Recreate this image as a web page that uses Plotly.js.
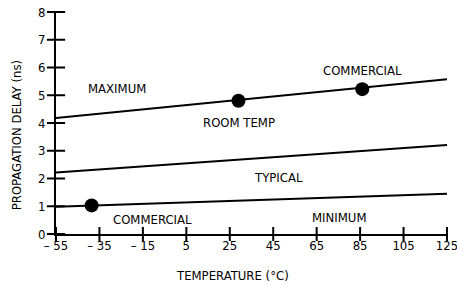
<!DOCTYPE html>
<html>
<head>
<meta charset="utf-8">
<script src="https://cdn.plot.ly/plotly-3.0.1.min.js"></script>
<style>html,body{margin:0;padding:0;background:#fff;}#chart{width:457px;height:285px;}</style>
</head>
<body>
<div id="chart"></div>
<script>
// Data
const lineTemps = [-55, 125];
const maximumDelay = [4.18, 5.58];
const typicalDelay = [2.22, 3.21];
const minimumDelay = [0.98, 1.45];

const dotTemps = [-38.6, 29, 86];
const dotDelays = [1.03, 4.8, 5.22];

const xTickVals = [-55, -35, -15, 5, 25, 45, 65, 85, 105, 125];
const xTickText = ['\u2013 55', '\u2013 35', '\u2013 15', '5', '25', '45', '65', '85', '105', '125'];
const yTickVals = [0, 1, 2, 3, 4, 5, 6, 7, 8];

const labelTexts = ['MAXIMUM', 'ROOM TEMP', 'COMMERCIAL', 'TYPICAL', 'COMMERCIAL', 'MINIMUM'];
const labelX = [-26.9, 29.3, 86.3, 47.4, -10.8, 75.1];
const labelY = [5.26, 4.03, 5.9, 2.05, 0.52, 0.6];

const FONT = '"DejaVu Sans Condensed", "DejaVu Sans", sans-serif';
const INK = '#000';
const FS = 13;
const xMin = xTickVals[0], yMin = yTickVals[0];

const lineStyle = {color: INK, width: 2};
const traces = [
  {x: lineTemps, y: maximumDelay, mode: 'lines', line: lineStyle, hoverinfo: 'skip'},
  {x: lineTemps, y: typicalDelay, mode: 'lines', line: lineStyle, hoverinfo: 'skip'},
  {x: lineTemps, y: minimumDelay, mode: 'lines', line: lineStyle, hoverinfo: 'skip'},
  {x: dotTemps, y: dotDelays, mode: 'markers', marker: {color: INK, size: 14}, cliponaxis: false, hoverinfo: 'skip'},
  // crossing tick marks on the y axis
  {x: yTickVals.map(() => xMin), y: yTickVals, mode: 'markers', cliponaxis: false, hoverinfo: 'skip',
   marker: {symbol: 'line-ew', size: 13, line: {color: INK, width: 2}}},
  // crossing tick marks on the x axis
  {x: xTickVals, y: xTickVals.map(() => yMin), mode: 'markers', cliponaxis: false, hoverinfo: 'skip',
   marker: {symbol: 'line-ns', size: 10, line: {color: INK, width: 2}}}
];

const annotations = labelTexts.map((t, i) => ({
  x: labelX[i], y: labelY[i], xref: 'x', yref: 'y', text: t, showarrow: false,
  font: {family: FONT, size: FS, color: INK}, xanchor: 'center', yanchor: 'middle'
}));
annotations.push({
  xref: 'paper', yref: 'paper', x: -0.099, y: 0.446, text: 'PROPAGATION DELAY (ns)',
  textangle: -90, showarrow: false, font: {family: FONT, size: FS, color: INK},
  xanchor: 'center', yanchor: 'middle'
});
annotations.push({
  xref: 'paper', yref: 'paper', x: 0.451, y: -0.185, text: 'TEMPERATURE (\u00B0C)',
  showarrow: false, font: {family: FONT, size: FS, color: INK},
  xanchor: 'center', yanchor: 'middle'
});

const layout = {
  width: 457, height: 285,
  margin: {l: 56, r: 10, t: 12, b: 51},
  paper_bgcolor: '#fff', plot_bgcolor: '#fff',
  showlegend: false,
  font: {family: FONT, color: INK},
  xaxis: {
    range: [-55, 125], tickmode: 'array', tickvals: xTickVals, ticktext: xTickText,
    ticks: '', ticklabelstandoff: -2,
    showgrid: false, zeroline: false, showline: true, linecolor: INK, linewidth: 2,
    tickfont: {family: FONT, size: FS, color: INK}, ticklabeloverflow: 'allow'
  },
  yaxis: {
    range: [0, 8], tickmode: 'array', tickvals: yTickVals,
    ticks: '', ticklabelstandoff: 6,
    showgrid: false, zeroline: false, showline: true, linecolor: INK, linewidth: 2,
    tickfont: {family: FONT, size: FS, color: INK}, ticklabeloverflow: 'allow'
  },
  annotations: annotations
};

Plotly.newPlot('chart', traces, layout, {displayModeBar: false});
</script>
</body>
</html>
